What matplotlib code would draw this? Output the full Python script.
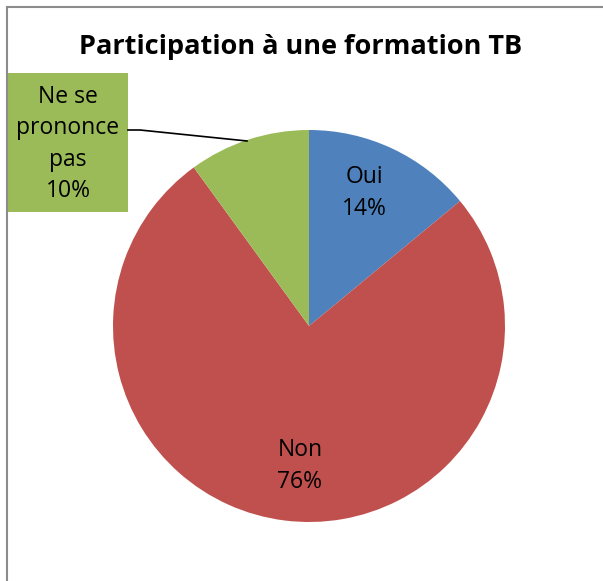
import matplotlib.pyplot as plt
from matplotlib.lines import Line2D

# data
categories = ["Oui", "Non", "Ne se\nprononce\npas"]
values = [14, 76, 10]
colors = ["#4F81BD", "#C0504D", "#9BBB59"]

W, H = 603, 581
fig = plt.figure(figsize=(W / 100, H / 100), dpi=100)
ax = fig.add_axes([0, 0, 1, 1])
ax.set_xlim(0, W)
ax.set_ylim(0, H)
ax.set_aspect("equal")
ax.axis("off")

# pie (pixel coords, y flipped)
cx, cy, r = 309, H - 326, 196
wedges, _ = ax.pie(values, colors=colors, startangle=90, counterclock=False,
                   center=(cx, cy), radius=r, frame=True,
                   wedgeprops=dict(linewidth=0))
ax.set_xlim(0, W)
ax.set_ylim(0, H)
ax.axis("off")

font = "Open Sans"
fs = 16.5

# labels
ax.text(364, H - 193, f"{categories[0]}\n{values[0]}%", ha="center", va="center",
        fontsize=fs, family=font, linespacing=1.4)
ax.text(300, H - 466, f"{categories[1]}\n{values[1]}%", ha="center", va="center",
        fontsize=fs, family=font, linespacing=1.4)

# green label box
ax.add_patch(plt.Rectangle((8, H - 212), 120, 139, facecolor=colors[2], edgecolor="none"))
ax.text(68, H - 144, f"{categories[2]}\n{values[2]}%", ha="center", va="center",
        fontsize=fs, family=font, linespacing=1.4)
ax.plot([128, 140, 247], [H - 130, H - 130, H - 141], color="black", linewidth=1.2)

# title
ax.text(301, H - 47, "Participation à une formation TB", ha="center", va="center",
        fontsize=19.5, fontweight="bold", family=font)

# chart border
fig.add_artist(Line2D([7 / W, 7 / W], [0, 1 - 7 / H], color="#8c8c8c", linewidth=1.5))
fig.add_artist(Line2D([7 / W, 1], [1 - 7 / H, 1 - 7 / H], color="#8c8c8c", linewidth=1.5))

fig.savefig("out.png", dpi=100)
